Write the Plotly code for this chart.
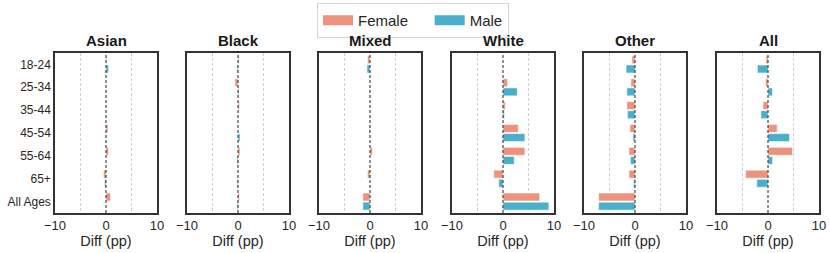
import plotly.graph_objects as go
from plotly.subplots import make_subplots

groups = ["Asian", "Black", "Mixed", "White", "Other", "All"]
ages = ["18-24", "25-34", "35-44", "45-54", "55-64", "65+", "All Ages"]

female = {
    "Asian": [0.15, 0.0, 0.0, 0.4, 0.5, -0.5, 0.9],
    "Black": [0.2, -0.6, 0.3, 0.0, 0.4, 0.0, 0.3],
    "Mixed": [-0.5, 0.0, 0.0, -0.2, 0.5, -0.5, -1.4],
    "White": [0.0, 0.9, 0.45, 3.0, 4.3, -1.8, 7.2],
    "Other": [-0.6, -0.8, -1.6, -1.0, -1.2, -1.2, -7.15],
    "All": [-0.4, -0.5, -1.0, 1.8, 4.8, -4.4, 0.0],
}
male = {
    "Asian": [0.5, 0.0, 0.0, 0.0, 0.0, -0.3, 0.0],
    "Black": [-0.2, 0.2, 0.0, 0.4, -0.2, -0.2, -0.2],
    "Mixed": [-0.6, -0.1, 0.0, 0.0, 0.0, 0.0, -1.4],
    "White": [0.0, 2.8, 0.3, 4.3, 2.2, -0.85, 9.0],
    "Other": [-1.75, -1.6, -1.5, -0.4, -0.9, -0.3, -7.15],
    "All": [-2.1, 0.9, -1.4, 4.2, 0.9, -2.2, 0.0],
}

F_COL = "rgba(236,138,114,0.92)"
M_COL = "rgba(58,168,198,0.92)"
W, H = 830, 253
FONT = "Liberation Sans, Arial, sans-serif"

fig = make_subplots(rows=1, cols=6, shared_yaxes=False)

lefts = [55, 187, 319, 452, 584, 717]
pw = 102
ytop, ybot = 53, 213

for i, g in enumerate(groups):
    c = i + 1
    fig.add_trace(go.Bar(y=ages, x=female[g], orientation="h", marker=dict(color=F_COL, line=dict(color="white", width=0.6)),
                         width=0.35, offset=-0.375, showlegend=False, name="Female"), row=1, col=c)
    fig.add_trace(go.Bar(y=ages, x=male[g], orientation="h", marker=dict(color=M_COL, line=dict(color="white", width=0.6)),
                         width=0.35, offset=0.025, showlegend=False, name="Male"), row=1, col=c)
    xa = "xaxis" if c == 1 else f"xaxis{c}"
    ya = "yaxis" if c == 1 else f"yaxis{c}"
    fig.layout[xa].update(
        domain=[lefts[i] / W, (lefts[i] + pw) / W], range=[-10, 10], tickvals=[-10, 0, 10],
        ticktext=["\u221210", "0", "10"], showgrid=False, zeroline=False,
        showline=True, mirror=True, linecolor="#333333", linewidth=1.5, ticks="",
        tickfont=dict(size=13, color="#262626", family=FONT), automargin=False,
        title=dict(text="Diff (pp)", font=dict(size=14.5, color="#262626", family=FONT), standoff=2),
        minor=dict(tickvals=[-5, 5], showgrid=True, gridcolor="#d0d0d0", griddash="3px,2px", gridwidth=1, ticks=""),
    )
    fig.layout[ya].update(
        domain=[1 - ybot / H, 1 - ytop / H], type="category", categoryorder="array", categoryarray=ages,
        range=[6.5, -0.5], showgrid=False, zeroline=False, showline=True, mirror=True,
        linecolor="#333333", linewidth=1.5, ticks="", showticklabels=(c == 1), automargin=False,
        tickfont=dict(size=12, color="#262626", family=FONT),
    )
    xr = "x" if c == 1 else f"x{c}"
    yr = "y" if c == 1 else f"y{c}"
    fig.add_shape(type="line", xref=xr, yref=f"{yr} domain", x0=0, x1=0, y0=0, y1=1,
                  line=dict(color="#222222", width=1, dash="3px,2px"), layer="above")
    fig.add_annotation(text=f"<b>{g}</b>", xref="paper", yref="paper",
                       x=(lefts[i] + pw / 2) / W, y=1 - (ytop - 2) / H, xanchor="center", yanchor="bottom",
                       showarrow=False, font=dict(size=15, color="#1a1a1a", family=FONT))

# legend entries
fig.add_trace(go.Scatter(x=[None], y=[None], mode="lines", name="Female\u00a0\u00a0\u00a0\u00a0",
                         line=dict(color=F_COL, width=10), showlegend=True), row=1, col=1)
fig.add_trace(go.Scatter(x=[None], y=[None], mode="lines", name="Male",
                         line=dict(color=M_COL, width=10), showlegend=True), row=1, col=1)

fig.update_layout(
    width=W, height=H, margin=dict(l=0, r=0, t=0, b=0),
    plot_bgcolor="white", paper_bgcolor="white", barmode="overlay",
    font=dict(family=FONT, color="#262626"),
    legend=dict(orientation="h", x=413 / W, xanchor="center", y=1 - 3 / H, yanchor="top",
                bordercolor="#d6d6d6", borderwidth=1, font=dict(size=15, family=FONT, color="#262626"),
                itemwidth=30, tracegroupgap=0, bgcolor="white"),
)

fig.write_html("out.html", config={"displayModeBar": False},
               post_script="document.body.style.margin='0';document.body.style.padding='0';")
